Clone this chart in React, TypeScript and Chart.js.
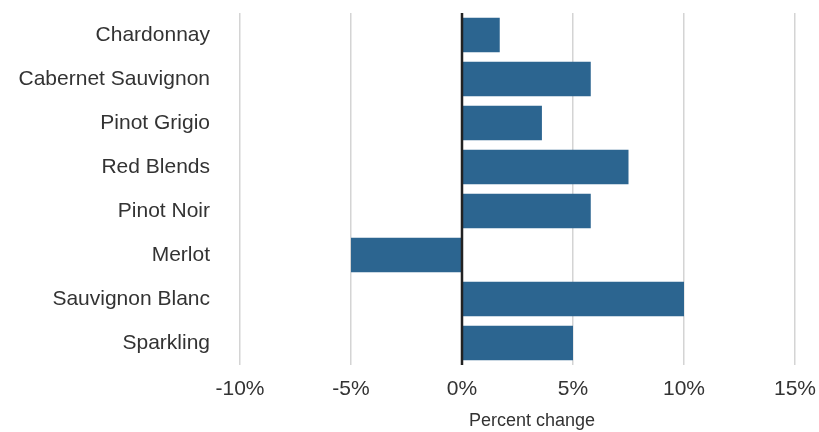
import React, { useEffect, useRef } from "react";
import { Chart, registerables } from "chart.js";

Chart.register(...registerables);

const categories = [
  "Chardonnay",
  "Cabernet Sauvignon",
  "Pinot Grigio",
  "Red Blends",
  "Pinot Noir",
  "Merlot",
  "Sauvignon Blanc",
  "Sparkling",
];
const values = [1.7, 5.8, 3.6, 7.5, 5.8, -5.0, 10.0, 5.0];
const xTicks = [-10, -5, 0, 5, 10, 15];
const axisTitle = "Percent change";

const FONT = "'Liberation Sans', Arial, Helvetica, sans-serif";

export default function App() {
  const ref = useRef<HTMLCanvasElement>(null);
  useEffect(() => {
    document.body.style.margin = "0";
    const extrasPlugin = {
      id: "extras",
      afterDatasetsDraw(chart: any) {
        const { ctx, chartArea, scales } = chart;
        const x0 = scales.x.getPixelForValue(0);
        ctx.save();
        ctx.strokeStyle = "#222";
        ctx.lineWidth = 2.5;
        ctx.beginPath();
        ctx.moveTo(x0, chartArea.top);
        ctx.lineTo(x0, chartArea.bottom);
        ctx.stroke();
        ctx.restore();
      },
      afterDraw(chart: any) {
        const { ctx } = chart;
        ctx.save();
        ctx.font = `18px ${FONT}`;
        ctx.fillStyle = "#333";
        ctx.textAlign = "center";
        ctx.textBaseline = "middle";
        ctx.fillText(axisTitle, 532, 421);
        ctx.restore();
      },
    };
    const chart = new Chart(ref.current!, {
      type: "bar",
      data: {
        labels: categories,
        datasets: [
          {
            data: values,
            backgroundColor: "#2c6590",
            barPercentage: 0.78,
            categoryPercentage: 1,
          },
        ],
      },
      options: {
        indexAxis: "y",
        animation: false,
        responsive: false,
        maintainAspectRatio: false,
        layout: { padding: { top: 13, right: 24, left: 0, bottom: 0 } },
        plugins: { legend: { display: false }, tooltip: { enabled: false } },
        scales: {
          x: {
            min: -10,
            max: 15,
            afterBuildTicks(scale: any) {
              scale.ticks = xTicks.map((v) => ({ value: v }));
            },
            afterFit(scale: any) {
              scale.height = 67;
              scale.paddingRight = 0;
              scale.paddingLeft = 0;
            },
            ticks: {
              callback: (v: any) => `${v}%`,
              font: { family: FONT, size: 21 },
              color: "#333",
              padding: 12,
              maxRotation: 0,
            },
            grid: {
              color: "#d4d4d4",
              lineWidth: 1.5,
              drawTicks: false,
            },
            border: { display: false },
          },
          y: {
            afterFit(scale: any) {
              scale.width = 240;
            },
            ticks: {
              font: { family: FONT, size: 21 },
              color: "#333",
              padding: 0,
            },
            grid: { display: false, drawTicks: true, tickLength: 30 },
            border: { display: false },
          },
        },
      },
      plugins: [extrasPlugin],
    });
    return () => chart.destroy();
  }, []);
  return (
    <div style={{ position: "absolute", left: 0, top: 0, width: 819, height: 432 }}>
      <canvas ref={ref} width={819} height={432} style={{ width: 819, height: 432 }} />
    </div>
  );
}
